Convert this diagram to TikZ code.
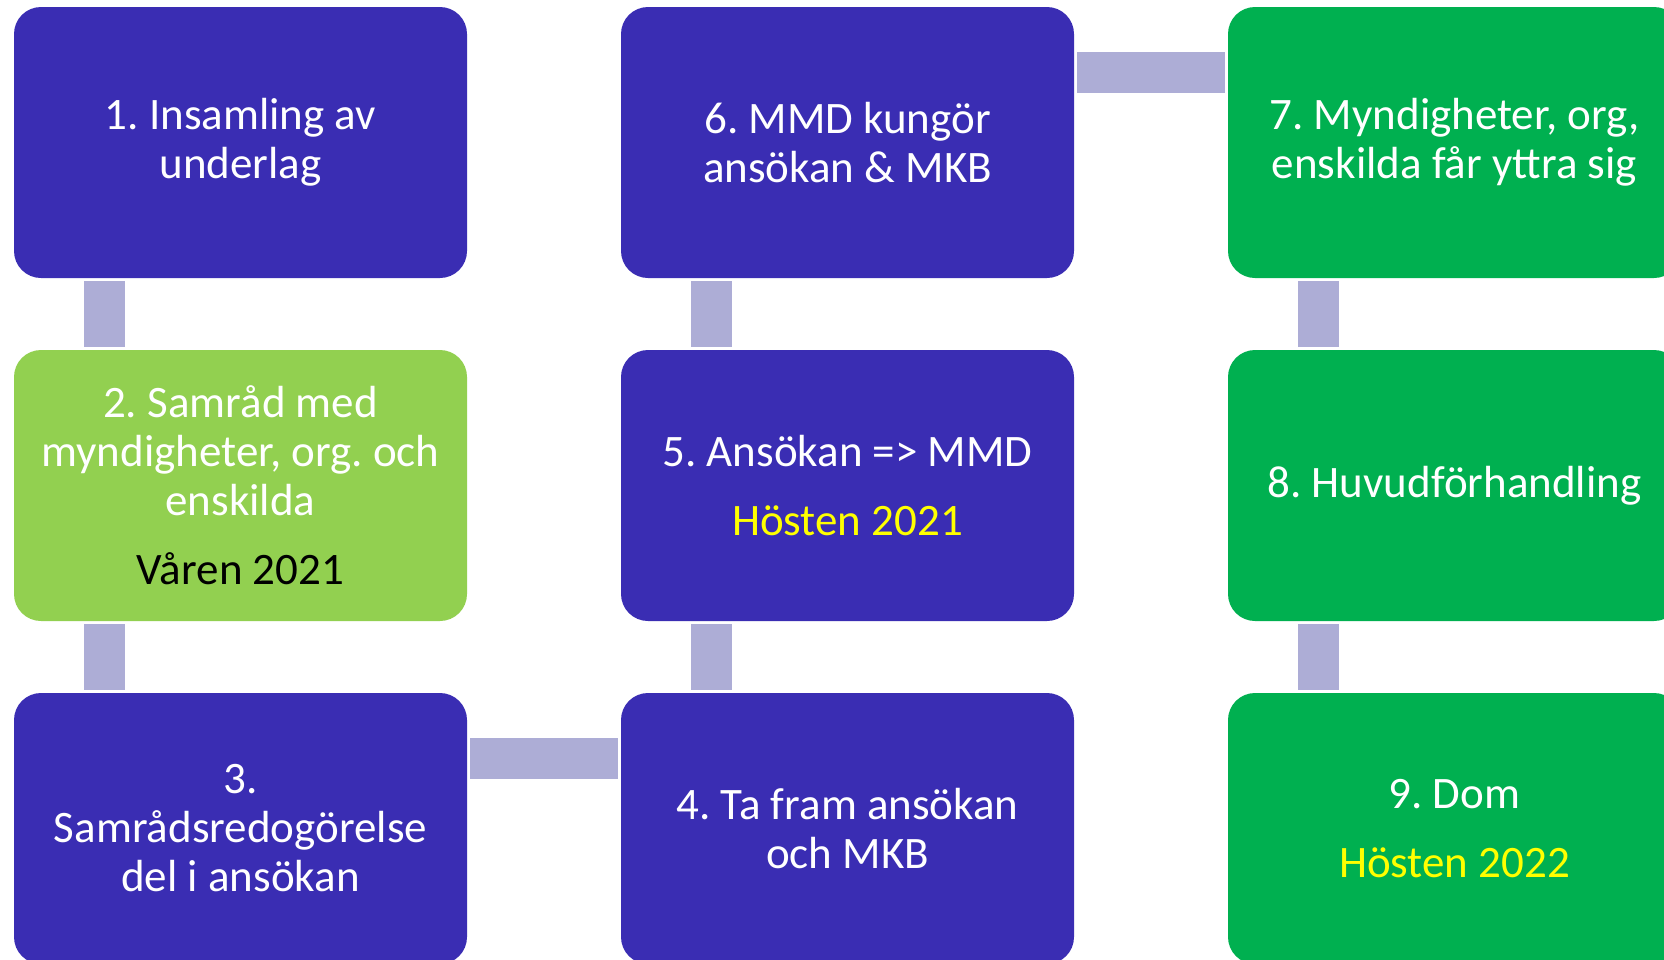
\documentclass[tikz,border=0pt]{standalone}
\usepackage{fontspec}
\setmainfont{Carlito}
\usepackage{tikz}
\frenchspacing

\definecolor{stepblue}{HTML}{3A2DB3}
\definecolor{steplime}{HTML}{92D050}
\definecolor{stepgreen}{HTML}{00B050}
\definecolor{linkgray}{HTML}{ADADD6}
\definecolor{dateyellow}{HTML}{FFFF00}

\tikzset{
  stage/.style={rounded corners=13.5pt, minimum width=226.5pt, minimum height=135.5pt,
    inner sep=4pt, align=center, text=white, font=\fontsize{22.5pt}{24.5pt}\selectfont},
  link/.style={linkgray, line width=20.5pt}
}

\begin{document}
\begin{tikzpicture}[x=0.5pt,y=-0.5pt]
\useasboundingbox (0,0) rectangle (1664,959);
\node[stage,fill=stepblue] (b1) at (240.5,142.5) {1. Insamling av\\underlag};
\node[stage,fill=steplime] (b2) at (240.5,485.5) {2. Samråd med\\myndigheter, org. och\\enskilda\\[10pt]\textcolor{black}{Våren 2021}};
\node[stage,fill=stepblue] (b3) at (240.5,828.5) {3.\\Samrådsredogörelse\\del i ansökan};
\node[stage,fill=stepblue] (b4) at (847.5,828.5) {4. Ta fram ansökan\\och MKB};
\node[stage,fill=stepblue] (b5) at (847.5,485.5) {5. Ansökan => MMD\\[10pt]\textcolor{dateyellow}{Hösten 2021}};
\node[stage,fill=stepblue] (b6) at (847.5,142.5) {6. MMD kungör\\ansökan \& MKB};
\node[stage,fill=stepgreen] (b7) at (1454.5,142.5) {7. Myndigheter, org,\\enskilda får yttra sig};
\node[stage,fill=stepgreen] (b8) at (1454.5,485.5) {8. Huvudförhandling};
\node[stage,fill=stepgreen] (b9) at (1454.5,828.5) {9. Dom\\[10pt]\textcolor{dateyellow}{Hösten 2022}};
\foreach \a/\b in {b1/b2,b2/b3,b6/b5,b5/b4,b7/b8,b8/b9}
  \draw[link] ([xshift=45.5pt,yshift=-1.5pt]\a.south west) -- ([xshift=45.5pt,yshift=1.5pt]\b.north west);
\foreach \a/\b in {b3/b4,b6/b7}
  \draw[link] ([xshift=1.5pt,yshift=-33pt]\a.north east) -- ([xshift=-1.5pt,yshift=-33pt]\b.north west);
\end{tikzpicture}
\end{document}
